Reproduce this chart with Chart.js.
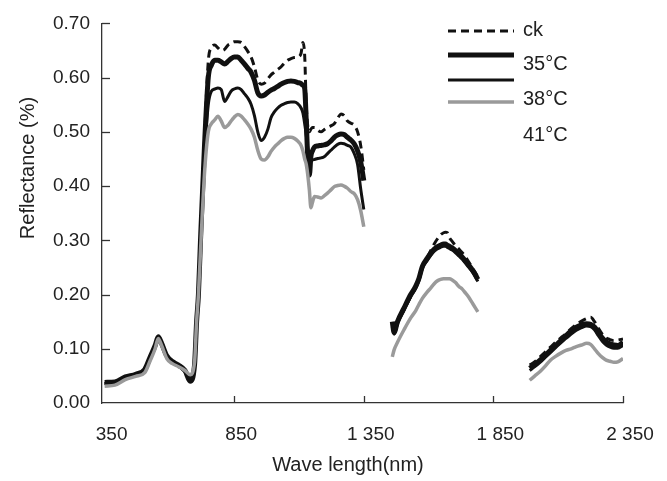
<!DOCTYPE html>
<html>
<head>
<meta charset="utf-8">
<script src="https://cdn.jsdelivr.net/npm/chart.js@4.4.1/dist/chart.umd.min.js"></script>
<style>
  html, body { margin: 0; padding: 0; background: #fff; }
  #wrap { width: 667px; height: 481px; }
</style>
</head>
<body>
<div id="wrap"><canvas id="chart"></canvas></div>
<script>
// wavelengths (nm), null marks the water absorption gaps
const wavelength = [
  350, 390, 430, 470, 505, 525, 545, 557, 570, 590, 610, 635, 660, 680, 697, 705, 712, 720, 735, 750,
  762, 775, 787, 800, 813, 826, 838, 850, 864, 877, 890, 903, 915, 928, 941, 954, 967, 980, 992, 1005,
  1018, 1031, 1044, 1056, 1069, 1082, 1095, 1108, 1115, 1122, 1128, 1134, 1140, 1146, 1152, 1160, 1172, 1185, 1197, 1210,
  1223, 1236, 1249, 1262, 1274, 1287, 1300, 1313, 1326, 1338, 1350,
  1400,
  1460, 1467, 1480, 1505, 1531, 1550, 1563, 1576, 1595, 1608, 1620, 1633, 1646, 1658, 1665, 1672, 1680, 1691, 1704, 1717,
  1730, 1742, 1755, 1768, 1781, 1790,
  1900,
  1990, 2010, 2030, 2050, 2070, 2090, 2110, 2130, 2150, 2170, 2190, 2210, 2225, 2240, 2255, 2270, 2285, 2300, 2315, 2330, 2350
];

const ck = [
  0.036, 0.037, 0.046, 0.052, 0.058, 0.080, 0.104, 0.121, 0.108, 0.085, 0.075, 0.068, 0.058, 0.046, 0.070, 0.150, 0.200, 0.300, 0.480, 0.630,
  0.655, 0.660, 0.655, 0.650, 0.652, 0.660, 0.663, 0.666, 0.666, 0.665, 0.657, 0.648, 0.638, 0.620, 0.596, 0.588, 0.590, 0.598, 0.605, 0.610,
  0.615, 0.620, 0.627, 0.632, 0.635, 0.637, 0.638, 0.645, 0.665, 0.640, 0.550, 0.510, 0.500, 0.505, 0.508, 0.508, 0.503, 0.500, 0.504, 0.508,
  0.511, 0.515, 0.525, 0.533, 0.530, 0.520, 0.516, 0.512, 0.500, 0.475, 0.430,
  null,
  0.140, 0.128, 0.148, 0.172, 0.196, 0.213, 0.228, 0.250, 0.268, 0.281, 0.292, 0.302, 0.310, 0.314, 0.315, 0.314, 0.305, 0.298, 0.290, 0.284,
  0.277, 0.270, 0.260, 0.250, 0.240, 0.232,
  null,
  0.070, 0.076, 0.085, 0.094, 0.103, 0.112, 0.120, 0.128, 0.137, 0.145, 0.151, 0.156, 0.158, 0.150, 0.138, 0.127, 0.120, 0.117, 0.115, 0.116, 0.118
];

const t35 = [
  0.038, 0.039, 0.048, 0.053, 0.062, 0.084, 0.106, 0.122, 0.110, 0.087, 0.077, 0.070, 0.060, 0.040, 0.070, 0.150, 0.200, 0.300, 0.470, 0.600,
  0.623, 0.632, 0.632, 0.629, 0.625, 0.630, 0.635, 0.638, 0.638, 0.632, 0.625, 0.617, 0.610, 0.595, 0.572, 0.566, 0.568, 0.573, 0.577, 0.580,
  0.584, 0.588, 0.591, 0.593, 0.594, 0.593, 0.591, 0.589, 0.586, 0.580, 0.520, 0.450, 0.420, 0.455, 0.465, 0.472, 0.474, 0.475, 0.476, 0.478,
  0.483, 0.490, 0.494, 0.496, 0.495, 0.490, 0.485, 0.478, 0.465, 0.445, 0.410,
  null,
  0.150, 0.130, 0.150, 0.175, 0.200, 0.215, 0.230, 0.252, 0.267, 0.276, 0.283, 0.288, 0.291, 0.293, 0.293, 0.291, 0.289, 0.286, 0.281, 0.275,
  0.269, 0.262, 0.254, 0.246, 0.236, 0.228,
  null,
  0.064, 0.071, 0.079, 0.088, 0.097, 0.106, 0.115, 0.124, 0.133, 0.140, 0.144, 0.146, 0.145, 0.140, 0.130, 0.120, 0.113, 0.109, 0.107, 0.106, 0.112
];

const t38 = [
  0.036, 0.037, 0.046, 0.052, 0.060, 0.082, 0.104, 0.121, 0.108, 0.085, 0.075, 0.068, 0.058, 0.045, 0.070, 0.150, 0.200, 0.290, 0.450, 0.550,
  0.575, 0.579, 0.581, 0.578, 0.556, 0.565, 0.575, 0.579, 0.581, 0.578, 0.570, 0.562, 0.551, 0.530, 0.500, 0.484, 0.490, 0.505, 0.526, 0.537,
  0.544, 0.549, 0.552, 0.554, 0.555, 0.555, 0.552, 0.544, 0.535, 0.515, 0.494, 0.470, 0.454, 0.450, 0.448, 0.449, 0.451, 0.452, 0.454, 0.460,
  0.466, 0.472, 0.477, 0.479, 0.478, 0.475, 0.472, 0.460, 0.440, 0.395, 0.357,
  null,
  0.146, 0.127, 0.146, 0.171, 0.196, 0.211, 0.226, 0.248, 0.263, 0.272, 0.279, 0.284, 0.287, 0.289, 0.289, 0.287, 0.285, 0.282, 0.277, 0.271,
  0.265, 0.258, 0.250, 0.242, 0.232, 0.224,
  null,
  0.060, 0.067, 0.075, 0.084, 0.093, 0.102, 0.111, 0.119, 0.127, 0.134, 0.139, 0.142, 0.141, 0.135, 0.124, 0.114, 0.107, 0.103, 0.101, 0.101, 0.106
];

const t41 = [
  0.031, 0.033, 0.043, 0.049, 0.056, 0.077, 0.100, 0.119, 0.106, 0.082, 0.073, 0.067, 0.060, 0.052, 0.075, 0.150, 0.200, 0.280, 0.420, 0.500,
  0.515, 0.522, 0.529, 0.520, 0.508, 0.512, 0.520, 0.527, 0.532, 0.529, 0.522, 0.514, 0.505, 0.490, 0.466, 0.450, 0.448, 0.454, 0.464, 0.472,
  0.478, 0.484, 0.488, 0.490, 0.490, 0.488, 0.483, 0.475, 0.465, 0.450, 0.440, 0.420, 0.393, 0.360, 0.370, 0.381, 0.380, 0.378, 0.382, 0.387,
  0.393, 0.399, 0.401, 0.402, 0.400, 0.396, 0.390, 0.386, 0.375, 0.355, 0.325,
  null,
  0.085, 0.098, 0.112, 0.135, 0.157, 0.170, 0.182, 0.193, 0.205, 0.212, 0.219, 0.225, 0.228, 0.229, 0.229, 0.229, 0.229, 0.227, 0.222, 0.215,
  0.210, 0.203, 0.195, 0.185, 0.175, 0.168,
  null,
  0.042, 0.050, 0.058, 0.068, 0.079, 0.086, 0.092, 0.097, 0.100, 0.104, 0.107, 0.110, 0.108, 0.100, 0.091, 0.084, 0.079, 0.077, 0.075, 0.076, 0.082
];

const seriesNames = ['ck', '35°C', '38°C', '41°C'];
const xTicks = [350, 850, 1350, 1850, 2350];
const yTicks = [0, 0.1, 0.2, 0.3, 0.4, 0.5, 0.6, 0.7];

const FONT = "'Liberation Sans', Arial, Helvetica, sans-serif";
const TEXT = '#222';
const AXIS = '#333';

function points(vals) {
  return wavelength.map((w, i) => ({ x: w, y: vals[i] }));
}

function fmtNm(v) {
  if (v < 1000) return String(v);
  return Math.floor(v / 1000) + ' ' + String(v % 1000).padStart(3, '0');
}

// inward ticks, axis titles and the legend
const decorations = {
  id: 'decorations',
  afterDraw(chart) {
    const ctx = chart.ctx;
    const x = chart.scales.x;
    const y = chart.scales.y;
    const area = chart.chartArea;
    ctx.save();
    ctx.strokeStyle = AXIS;
    ctx.lineWidth = 1.3;
    yTicks.slice(1).forEach(v => {
      const py = Math.round(y.getPixelForValue(v)) + 0.5;
      ctx.beginPath();
      ctx.moveTo(area.left, py);
      ctx.lineTo(area.left + 8, py);
      ctx.stroke();
    });
    xTicks.slice(1).forEach(v => {
      const px = Math.round(x.getPixelForValue(v)) + 0.5;
      ctx.beginPath();
      ctx.moveTo(px, area.bottom);
      ctx.lineTo(px, area.bottom - 7);
      ctx.stroke();
    });

    ctx.fillStyle = TEXT;
    ctx.font = '20px ' + FONT;
    ctx.textAlign = 'center';
    ctx.textBaseline = 'middle';
    ctx.fillText('Wave length(nm)', 348, 465);
    ctx.save();
    ctx.translate(28, 168);
    ctx.rotate(-Math.PI / 2);
    ctx.fillText('Reflectance (%)', 0, 0);
    ctx.restore();

    // legend: samples and labels are spaced differently, as in the figure
    const lineY = [31, 55, 80, 102];
    const textY = [30, 64, 99, 135];
    chart.data.datasets.forEach((ds, i) => {
      if (i < lineY.length) {
        ctx.save();
        ctx.strokeStyle = ds.borderColor;
        ctx.lineWidth = ds.borderWidth;
        ctx.setLineDash(ds.borderDash || []);
        ctx.beginPath();
        ctx.moveTo(448, lineY[i]);
        ctx.lineTo(514, lineY[i]);
        ctx.stroke();
        ctx.restore();
      }
    });
    ctx.textAlign = 'left';
    seriesNames.forEach((name, i) => {
      ctx.fillText(name, 523, textY[i]);
    });
    ctx.restore();
  }
};

const ctx = document.getElementById('chart').getContext('2d');
new Chart(ctx, {
  type: 'line',
  data: {
    datasets: [
      { label: seriesNames[0], data: points(ck), borderColor: '#111', borderWidth: 3, borderDash: [8, 5], order: 1 },
      { label: seriesNames[1], data: points(t35), borderColor: '#111', borderWidth: 5, order: 3 },
      { label: seriesNames[2], data: points(t38), borderColor: '#111', borderWidth: 3, order: 2 },
      { label: seriesNames[3], data: points(t41), borderColor: '#9a9a9a', borderWidth: 3.5, order: 0 }
    ]
  },
  options: {
    responsive: true,
    maintainAspectRatio: false,
    animation: false,
    spanGaps: false,
    layout: { padding: { top: 17, right: 44, left: 0, bottom: 0 } },
    elements: {
      point: { radius: 0 },
      line: { cubicInterpolationMode: 'monotone', borderCapStyle: 'butt', borderJoinStyle: 'round' }
    },
    plugins: {
      legend: { display: false },
      tooltip: { enabled: false }
    },
    scales: {
      x: {
        type: 'linear',
        min: 340,
        max: 2350,
        afterBuildTicks: scale => { scale.ticks = xTicks.map(v => ({ value: v })); },
        afterFit: scale => { scale.height = 78; },
        grid: { display: true, drawOnChartArea: false, drawTicks: false },
        border: { display: true, color: AXIS, width: 1.3 },
        ticks: {
          padding: 20,
          labelOffset: 7,
          maxRotation: 0,
          color: TEXT,
          font: { family: FONT, size: 19 },
          callback: v => fmtNm(v)
        }
      },
      y: {
        min: 0,
        max: 0.7,
        afterBuildTicks: scale => { scale.ticks = yTicks.map(v => ({ value: v })); },
        afterFit: scale => { scale.width = 102; },
        grid: { display: true, drawOnChartArea: false, drawTicks: false },
        border: { display: true, color: AXIS, width: 1.3 },
        ticks: {
          padding: 12,
          color: TEXT,
          font: { family: FONT, size: 19 },
          callback: v => v.toFixed(2)
        }
      }
    }
  },
  plugins: [decorations]
});
</script>
</body>
</html>
